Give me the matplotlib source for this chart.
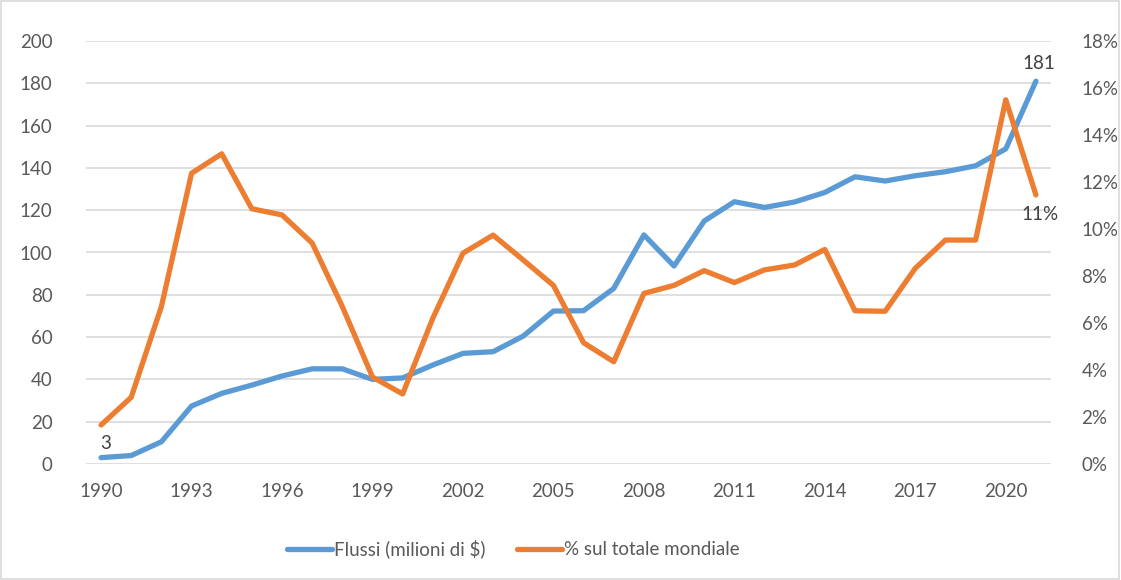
import matplotlib
matplotlib.use("Agg")
from matplotlib import pyplot as plt
from matplotlib.patches import Rectangle

# years on the x axis
years = list(range(1990, 2022))

# Flussi (milioni di $)
flussi = [3, 4, 10.5, 27.4, 33.4, 37.3, 41.6, 45, 45, 40, 40.7,
          46.8, 52.3, 53.1, 60.5, 72.3, 72.5, 83, 108.3, 93.6, 114.9,
          124, 121.3, 123.9, 128.4, 135.8, 133.8, 136.3, 138.2, 141, 149, 181]

# % sul totale mondiale
quota = [1.66, 2.84, 6.7, 12.37, 13.2, 10.86, 10.6, 9.4, 6.7, 3.7, 2.98,
         6.2, 8.97, 9.74, 8.68, 7.6, 5.16, 4.35, 7.26, 7.6, 8.23,
         7.72, 8.26, 8.47, 9.13, 6.52, 6.5, 8.33, 9.53, 9.53, 15.5, 11.45]

x_ticks = list(range(1990, 2022, 3))
left_ticks = list(range(0, 201, 20))
right_ticks = list(range(0, 19, 2))

blue = "#5B9BD5"
orange = "#ED7D31"
grey_text = "#595959"
plt.rcParams['font.family'] = ['Lato', 'DejaVu Sans']

fig = plt.figure(figsize=(11.21, 5.80), dpi=100)
ax = fig.add_axes([86 / 1121, 1 - 464 / 580, 965 / 1121, 423 / 580])
ax2 = ax.twinx()

# light border around the whole chart
fig.patches.append(Rectangle((0.001, 0.001), 0.997, 0.997, transform=fig.transFigure,
                             fill=False, edgecolor="#D9D9D9", linewidth=1.2))

l1, = ax.plot(years, flussi, color=blue, linewidth=3.8, solid_capstyle="round",
              solid_joinstyle="round", label="Flussi (milioni di $)", zorder=3)
l2, = ax2.plot(years, quota, color=orange, linewidth=3.8, solid_capstyle="round",
               solid_joinstyle="round", label="% sul totale mondiale", zorder=3)

ax.set_xlim(1989.5, 2021.5)
ax.set_ylim(0, 200)
ax2.set_ylim(0, 18)
ax.set_xticks(x_ticks)
ax.set_yticks(left_ticks)
ax2.set_yticks(right_ticks)
ax2.set_yticklabels([str(v) + "%" for v in right_ticks])

ax.grid(axis="y", color="#D9D9D9", linewidth=1.2)
ax.set_axisbelow(True)
for a in (ax, ax2):
    for s in a.spines.values():
        s.set_visible(False)
    a.tick_params(length=0, labelsize=13.5, labelcolor=grey_text)
ax.tick_params(axis="y", pad=24)
ax2.tick_params(axis="y", pad=22)
ax.tick_params(axis="x", pad=14)

# data labels
ax.annotate("3", (years[0], flussi[0]), xytext=(3.5, 10.5), textcoords="offset points",
            ha="center", va="center", fontsize=13.5, color="#404040")
ax.annotate("181", (years[-1], flussi[-1]), xytext=(2, 13), textcoords="offset points",
            ha="center", va="center", fontsize=13.5, color="#404040")
ax2.annotate("11%", (years[-1], quota[-1]), xytext=(3, -14), textcoords="offset points",
             ha="center", va="center", fontsize=13.5, color="#404040")

fig.legend(handles=[l1, l2], loc="center", bbox_to_anchor=(513 / 1121, 1 - 549 / 580),
           ncol=2, frameon=False, fontsize=13.5, handlelength=2.4, handletextpad=0.1,
           columnspacing=1.7, labelcolor=grey_text)

fig.savefig("out.png", dpi=100)
